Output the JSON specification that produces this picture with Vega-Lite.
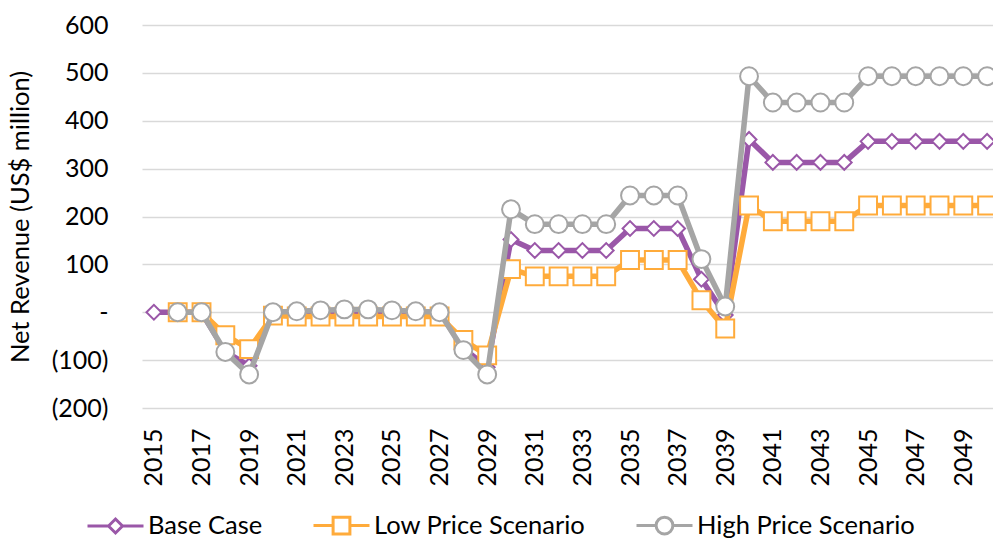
{
  "$schema": "https://vega.github.io/schema/vega-lite/v6.json",
  "width": 857,
  "height": 383,
  "padding": {"left": 8, "top": 13, "right": 0, "bottom": 5},
  "config": {"view": {"stroke": null}, "font": "Lato"},
  "data": {"values": [
    {"year": 2015, "series": "Base Case", "value": 0},
    {"year": 2016, "series": "Base Case", "value": 0},
    {"year": 2017, "series": "Base Case", "value": 0},
    {"year": 2018, "series": "Base Case", "value": -82},
    {"year": 2019, "series": "Base Case", "value": -112},
    {"year": 2020, "series": "Base Case", "value": 0},
    {"year": 2021, "series": "Base Case", "value": 0},
    {"year": 2022, "series": "Base Case", "value": 0},
    {"year": 2023, "series": "Base Case", "value": 0},
    {"year": 2024, "series": "Base Case", "value": 0},
    {"year": 2025, "series": "Base Case", "value": 0},
    {"year": 2026, "series": "Base Case", "value": 0},
    {"year": 2027, "series": "Base Case", "value": 0},
    {"year": 2028, "series": "Base Case", "value": -75},
    {"year": 2029, "series": "Base Case", "value": -115},
    {"year": 2030, "series": "Base Case", "value": 152},
    {"year": 2031, "series": "Base Case", "value": 129},
    {"year": 2032, "series": "Base Case", "value": 129},
    {"year": 2033, "series": "Base Case", "value": 129},
    {"year": 2034, "series": "Base Case", "value": 129},
    {"year": 2035, "series": "Base Case", "value": 175},
    {"year": 2036, "series": "Base Case", "value": 175},
    {"year": 2037, "series": "Base Case", "value": 175},
    {"year": 2038, "series": "Base Case", "value": 69},
    {"year": 2039, "series": "Base Case", "value": -6},
    {"year": 2040, "series": "Base Case", "value": 361},
    {"year": 2041, "series": "Base Case", "value": 313},
    {"year": 2042, "series": "Base Case", "value": 313},
    {"year": 2043, "series": "Base Case", "value": 313},
    {"year": 2044, "series": "Base Case", "value": 313},
    {"year": 2045, "series": "Base Case", "value": 357},
    {"year": 2046, "series": "Base Case", "value": 357},
    {"year": 2047, "series": "Base Case", "value": 357},
    {"year": 2048, "series": "Base Case", "value": 357},
    {"year": 2049, "series": "Base Case", "value": 357},
    {"year": 2050, "series": "Base Case", "value": 357},
    {"year": 2016, "series": "Low Price Scenario", "value": 0},
    {"year": 2017, "series": "Low Price Scenario", "value": 0},
    {"year": 2018, "series": "Low Price Scenario", "value": -48},
    {"year": 2019, "series": "Low Price Scenario", "value": -77},
    {"year": 2020, "series": "Low Price Scenario", "value": -7},
    {"year": 2021, "series": "Low Price Scenario", "value": -9},
    {"year": 2022, "series": "Low Price Scenario", "value": -9},
    {"year": 2023, "series": "Low Price Scenario", "value": -9},
    {"year": 2024, "series": "Low Price Scenario", "value": -9},
    {"year": 2025, "series": "Low Price Scenario", "value": -9},
    {"year": 2026, "series": "Low Price Scenario", "value": -9},
    {"year": 2027, "series": "Low Price Scenario", "value": -9},
    {"year": 2028, "series": "Low Price Scenario", "value": -58},
    {"year": 2029, "series": "Low Price Scenario", "value": -90},
    {"year": 2030, "series": "Low Price Scenario", "value": 90},
    {"year": 2031, "series": "Low Price Scenario", "value": 75},
    {"year": 2032, "series": "Low Price Scenario", "value": 75},
    {"year": 2033, "series": "Low Price Scenario", "value": 75},
    {"year": 2034, "series": "Low Price Scenario", "value": 75},
    {"year": 2035, "series": "Low Price Scenario", "value": 109},
    {"year": 2036, "series": "Low Price Scenario", "value": 109},
    {"year": 2037, "series": "Low Price Scenario", "value": 109},
    {"year": 2038, "series": "Low Price Scenario", "value": 25},
    {"year": 2039, "series": "Low Price Scenario", "value": -34},
    {"year": 2040, "series": "Low Price Scenario", "value": 223},
    {"year": 2041, "series": "Low Price Scenario", "value": 190},
    {"year": 2042, "series": "Low Price Scenario", "value": 190},
    {"year": 2043, "series": "Low Price Scenario", "value": 190},
    {"year": 2044, "series": "Low Price Scenario", "value": 190},
    {"year": 2045, "series": "Low Price Scenario", "value": 223},
    {"year": 2046, "series": "Low Price Scenario", "value": 223},
    {"year": 2047, "series": "Low Price Scenario", "value": 223},
    {"year": 2048, "series": "Low Price Scenario", "value": 223},
    {"year": 2049, "series": "Low Price Scenario", "value": 223},
    {"year": 2050, "series": "Low Price Scenario", "value": 223},
    {"year": 2016, "series": "High Price Scenario", "value": 0},
    {"year": 2017, "series": "High Price Scenario", "value": 0},
    {"year": 2018, "series": "High Price Scenario", "value": -83},
    {"year": 2019, "series": "High Price Scenario", "value": -130},
    {"year": 2020, "series": "High Price Scenario", "value": 0},
    {"year": 2021, "series": "High Price Scenario", "value": 2},
    {"year": 2022, "series": "High Price Scenario", "value": 4},
    {"year": 2023, "series": "High Price Scenario", "value": 6},
    {"year": 2024, "series": "High Price Scenario", "value": 6},
    {"year": 2025, "series": "High Price Scenario", "value": 4},
    {"year": 2026, "series": "High Price Scenario", "value": 2},
    {"year": 2027, "series": "High Price Scenario", "value": 0},
    {"year": 2028, "series": "High Price Scenario", "value": -79},
    {"year": 2029, "series": "High Price Scenario", "value": -130},
    {"year": 2030, "series": "High Price Scenario", "value": 215},
    {"year": 2031, "series": "High Price Scenario", "value": 184},
    {"year": 2032, "series": "High Price Scenario", "value": 184},
    {"year": 2033, "series": "High Price Scenario", "value": 184},
    {"year": 2034, "series": "High Price Scenario", "value": 184},
    {"year": 2035, "series": "High Price Scenario", "value": 244},
    {"year": 2036, "series": "High Price Scenario", "value": 244},
    {"year": 2037, "series": "High Price Scenario", "value": 244},
    {"year": 2038, "series": "High Price Scenario", "value": 111},
    {"year": 2039, "series": "High Price Scenario", "value": 12},
    {"year": 2040, "series": "High Price Scenario", "value": 493},
    {"year": 2041, "series": "High Price Scenario", "value": 438},
    {"year": 2042, "series": "High Price Scenario", "value": 438},
    {"year": 2043, "series": "High Price Scenario", "value": 438},
    {"year": 2044, "series": "High Price Scenario", "value": 438},
    {"year": 2045, "series": "High Price Scenario", "value": 493},
    {"year": 2046, "series": "High Price Scenario", "value": 493},
    {"year": 2047, "series": "High Price Scenario", "value": 493},
    {"year": 2048, "series": "High Price Scenario", "value": 493},
    {"year": 2049, "series": "High Price Scenario", "value": 493},
    {"year": 2050, "series": "High Price Scenario", "value": 493}
  ]},
  "encoding": {
    "x": {
      "field": "year", "type": "ordinal",
      "scale": {"type": "point", "padding": 0.5},
      "axis": {
        "title": null, "labelAngle": -90, "labelFontSize": 25, "labelColor": "#000000",
        "labelExpr": "datum.value % 2 == 1 ? datum.value : ''",
        "labelOverlap": false, "ticks": false, "domain": false, "labelPadding": 20, "grid": false
      }
    },
    "y": {
      "field": "value", "type": "quantitative",
      "scale": {"domain": [-200, 600], "nice": false},
      "axis": {
        "title": "Net Revenue (US$ million)", "titleFontSize": 25.5, "titleFontWeight": "normal", "titleColor": "#000000",
        "titlePadding": 18,
        "values": [-200, -100, 0, 100, 200, 300, 400, 500, 600],
        "labelExpr": "datum.value == 0 ? '-' : (datum.value < 0 ? '(' + format(-datum.value, 'd') + ')' : format(datum.value, 'd'))",
        "labelFontSize": 25, "labelColor": "#000000", "labelPadding": 34,
        "ticks": false, "domain": false, "grid": true, "gridColor": "#D9D9D9", "gridWidth": 1.5
      }
    },
    "stroke": {
      "field": "series", "type": "nominal",
      "scale": {"domain": ["Base Case", "Low Price Scenario", "High Price Scenario"], "range": ["#9A57A8", "#FFAB3B", "#A5A5A5"]},
      "legend": {
        "title": null, "orient": "none", "legendX": -56, "legendY": 471, "direction": "horizontal", "padding": 0,
        "labelFontSize": 25.5, "labelColor": "#000000", "labelOffset": 3, "columnPadding": 44, "labelLimit": 0,
        "symbolSize": 3136, "symbolStrokeWidth": 3, "symbolFillColor": "white", "symbolOpacity": 1,
        "encode": {"symbols": {"update": {
          "shape": {"signal": "datum.value == 'Base Case' ? 'M-1,0L-0.25,0M0.25,0L1,0M-0.25,0L0,-0.25L0.25,0L0,0.25Z' : (datum.value == 'Low Price Scenario' ? 'M-1,0L-0.3,0M0.3,0L1,0M-0.3,-0.3L0.3,-0.3L0.3,0.3L-0.3,0.3Z' : 'M-1,0L-0.3,0M0.3,0L1,0M0.3,0A0.3,0.3 0 1,1 -0.3,0A0.3,0.3 0 1,1 0.3,0Z')"},
          "fill": {"value": "white"},
          "fillOpacity": {"value": 1},
          "strokeWidth": {"value": 3}
        }}}
      }
    }
  },
  "layer": [
    {"transform": [{"filter": "datum.series == 'Base Case'"}], "mark": {"type": "line", "strokeWidth": 5.5, "strokeJoin": "round"}},
    {"transform": [{"filter": "datum.series == 'Base Case'"}], "mark": {"type": "point", "shape": "diamond", "filled": true, "fill": "white", "size": 220, "strokeWidth": 2, "opacity": 1}},
    {"transform": [{"filter": "datum.series == 'Low Price Scenario'"}], "mark": {"type": "line", "strokeWidth": 5.5, "strokeJoin": "round"}},
    {"transform": [{"filter": "datum.series == 'Low Price Scenario'"}], "mark": {"type": "point", "shape": "square", "filled": true, "fill": "white", "size": 320, "strokeWidth": 2, "opacity": 1}},
    {"transform": [{"filter": "datum.series == 'High Price Scenario'"}], "mark": {"type": "line", "strokeWidth": 5.5, "strokeJoin": "round"}},
    {"transform": [{"filter": "datum.series == 'High Price Scenario'"}], "mark": {"type": "point", "shape": "circle", "filled": true, "fill": "white", "size": 320, "strokeWidth": 2, "opacity": 1}}
  ]
}
